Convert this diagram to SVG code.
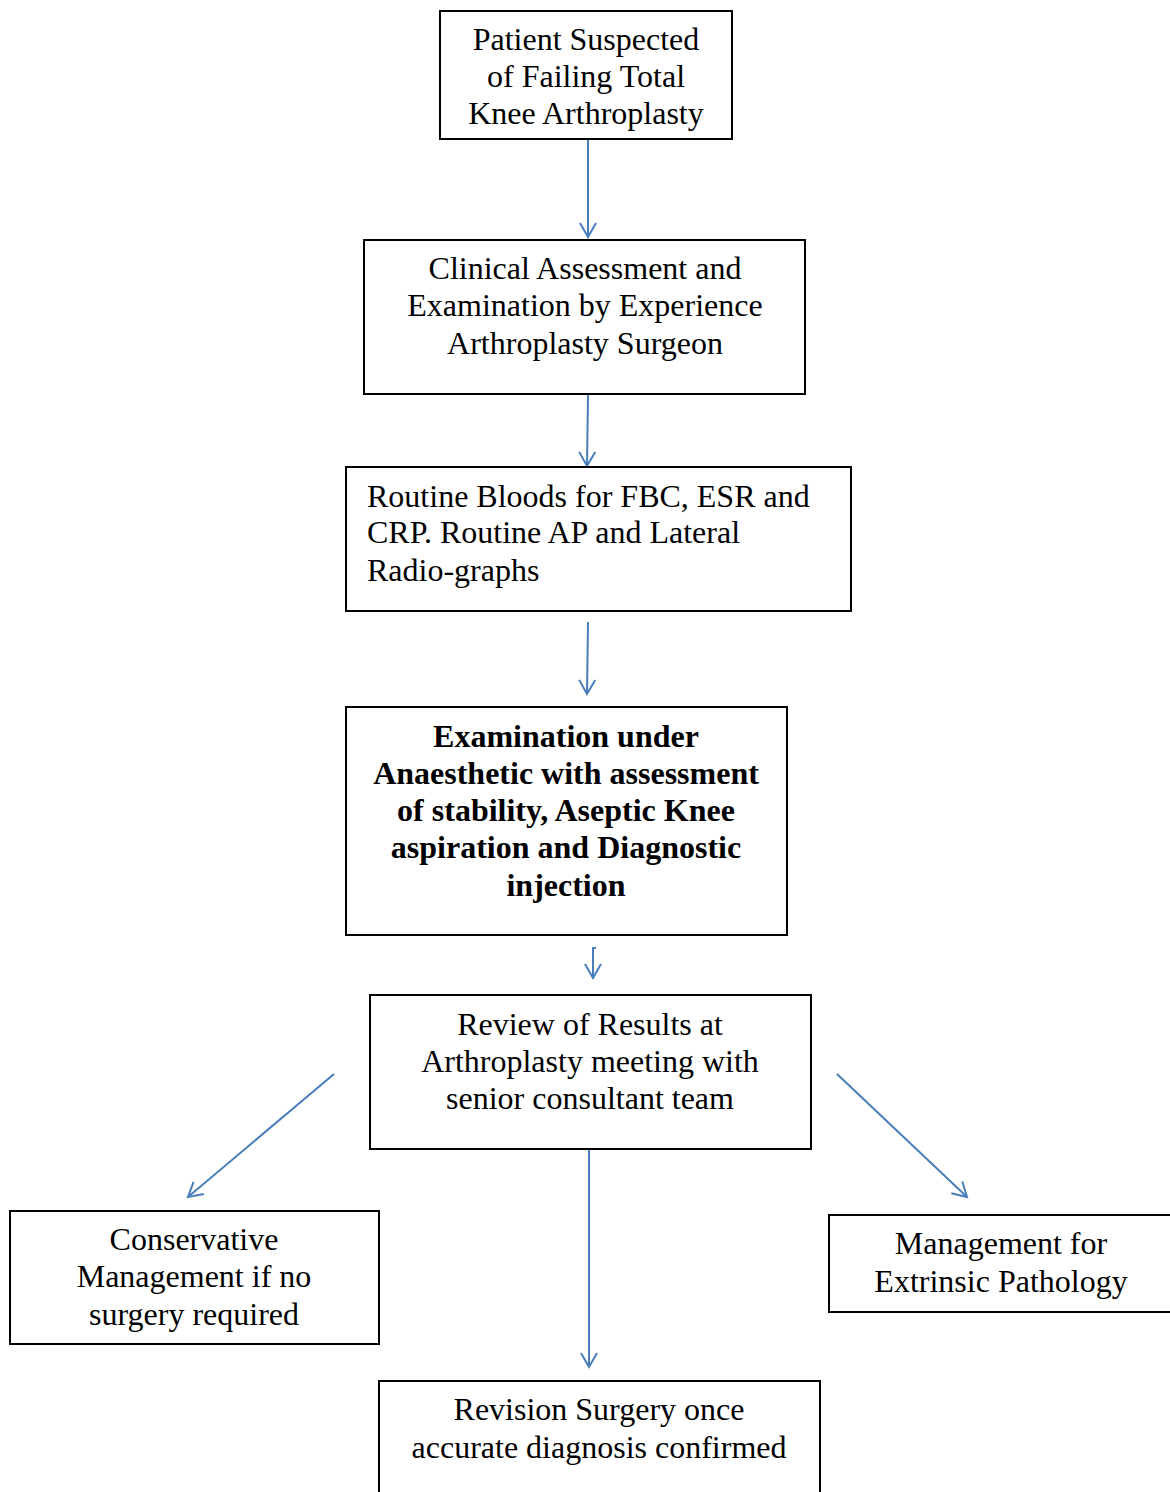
<svg xmlns="http://www.w3.org/2000/svg" width="1170" height="1492" viewBox="0 0 1170 1492">
<style>
.box{fill:#fff;stroke:#000;stroke-width:2}
.t{font-family:"Liberation Serif","Times New Roman",serif;font-size:32px;fill:#000}
.c{text-anchor:middle}
.b{font-weight:bold}
.con{stroke:#4a7ebb;stroke-width:2;fill:none}
</style>
<defs>
<marker id="ah" markerUnits="userSpaceOnUse" markerWidth="20" markerHeight="20" refX="15" refY="9" orient="auto" viewBox="0 0 20 18">
<path d="M1,1 L15,9 L1,17" fill="none" stroke="#4a7ebb" stroke-width="2"/>
</marker>
</defs>
<rect width="1170" height="1492" fill="#fff"/>
<g id="connectors">
<line class="con" x1="588" y1="140" x2="588" y2="237" marker-end="url(#ah)"/>
<line class="con" x1="588" y1="395" x2="587" y2="466" marker-end="url(#ah)"/>
<line class="con" x1="588" y1="622" x2="587" y2="694" marker-end="url(#ah)"/>
<path class="con" d="M596,948 L593,948 L593,978" marker-end="url(#ah)"/>
<line class="con" x1="334" y1="1074" x2="188" y2="1197" marker-end="url(#ah)"/>
<line class="con" x1="589" y1="1141" x2="589" y2="1367" marker-end="url(#ah)"/>
<line class="con" x1="837" y1="1074" x2="967" y2="1197" marker-end="url(#ah)"/>
</g>
<g id="n1">
<rect class="box" x="440" y="11" width="292" height="128"/>
<text class="t c" x="586" y="50">Patient Suspected</text>
<text class="t c" x="586" y="87">of Failing Total</text>
<text class="t c" x="586" y="124">Knee Arthroplasty</text>
</g>
<g id="n2">
<rect class="box" x="364" y="240" width="441" height="154"/>
<text class="t c" x="585" y="279">Clinical Assessment and</text>
<text class="t c" x="585" y="316">Examination by Experience</text>
<text class="t c" x="585" y="354">Arthroplasty Surgeon</text>
</g>
<g id="n3">
<rect class="box" x="346" y="467" width="505" height="144"/>
<text class="t" x="367" y="507">Routine Bloods for FBC, ESR and</text>
<text class="t" x="367" y="543">CRP. Routine AP and Lateral</text>
<text class="t" x="367" y="581">Radio-graphs</text>
</g>
<g id="n4">
<rect class="box" x="346" y="707" width="441" height="228"/>
<text class="t c b" x="566" y="747">Examination under</text>
<text class="t c b" x="566" y="784">Anaesthetic with assessment</text>
<text class="t c b" x="566" y="821">of stability, Aseptic Knee</text>
<text class="t c b" x="566" y="858">aspiration and Diagnostic</text>
<text class="t c b" x="566" y="896">injection</text>
</g>
<g id="n5">
<rect class="box" x="370" y="995" width="441" height="154"/>
<text class="t c" x="590" y="1035">Review of Results at</text>
<text class="t c" x="590" y="1072">Arthroplasty meeting with</text>
<text class="t c" x="590" y="1109">senior consultant team</text>
</g>
<g id="n6">
<rect class="box" x="10" y="1211" width="369" height="133"/>
<text class="t c" x="194" y="1250">Conservative</text>
<text class="t c" x="194" y="1287">Management if no</text>
<text class="t c" x="194" y="1325">surgery required</text>
</g>
<g id="n7">
<rect class="box" x="829" y="1215" width="345" height="97"/>
<text class="t c" x="1001" y="1254">Management for</text>
<text class="t c" x="1001" y="1292">Extrinsic Pathology</text>
</g>
<g id="n8">
<rect class="box" x="379" y="1381" width="441" height="120"/>
<text class="t c" x="599" y="1420">Revision Surgery once</text>
<text class="t c" x="599" y="1458">accurate diagnosis confirmed</text>
</g>
</svg>
